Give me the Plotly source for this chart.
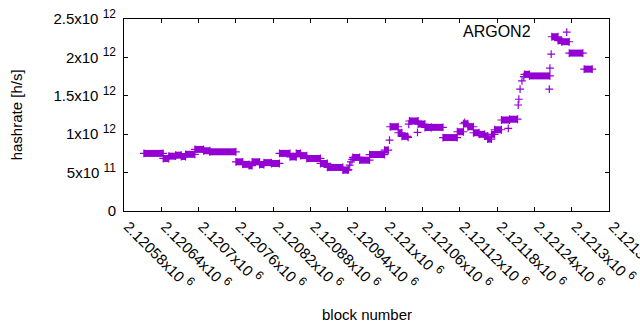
import plotly.graph_objects as go

# Runs of (nearly) constant hashrate: start block, end block, hashrate (x1e12 h/s)
run_start = [2120612, 2120643, 2120652, 2120663, 2120672, 2120679, 2120694, 2120708, 2120718,
             2120760, 2120771, 2120781, 2120786, 2120798, 2120805, 2120817, 2120830, 2120847,
             2120857, 2120864, 2120874, 2120896, 2120907, 2120932, 2120948, 2120959, 2120975,
             2120999, 2121008, 2121021, 2121027, 2121039, 2121053, 2121064, 2121074, 2121093,
             2121116, 2121126, 2121133, 2121142, 2121151, 2121160, 2121165, 2121171, 2121176,
             2121187, 2121200, 2121224, 2121232, 2121268, 2121278, 2121284, 2121296, 2121320]
run_end = [2120643, 2120652, 2120663, 2120672, 2120679, 2120694, 2120708, 2120718, 2120760,
           2120771, 2120781, 2120786, 2120798, 2120805, 2120817, 2120830, 2120847, 2120857,
           2120864, 2120874, 2120896, 2120907, 2120932, 2120940, 2120959, 2120975, 2120999,
           2121005, 2121021, 2121027, 2121036, 2121053, 2121064, 2121074, 2121093, 2121116,
           2121126, 2121133, 2121142, 2121151, 2121160, 2121165, 2121171, 2121176, 2121187,
           2121200, 2121213, 2121232, 2121265, 2121278, 2121284, 2121296, 2121318, 2121333]
run_hashrate = [0.750, 0.684, 0.714, 0.727, 0.710, 0.738, 0.802, 0.784, 0.771,
                0.640, 0.607, 0.590, 0.640, 0.606, 0.630, 0.619, 0.750, 0.705,
                0.750, 0.721, 0.684, 0.619, 0.567, 0.532, 0.697, 0.662, 0.735,
                0.793, 1.097, 1.019, 0.972, 1.172, 1.132, 1.087, 1.089, 0.956,
                1.032, 1.136, 1.097, 1.019, 0.998, 0.976, 0.937, 0.998, 1.058,
                1.185, 1.195, 1.779, 1.759, 2.269, 2.219, 2.204, 2.056, 1.847]

# Isolated samples (transitions)
pt_block = [2120941, 2120943, 2120945, 2120947, 2121007, 2121037, 2121038, 2121052,
            2121128, 2121198, 2121214, 2121215, 2121217, 2121220, 2121223, 2121264,
            2121265, 2121267, 2121292]
pt_hashrate = [0.54, 0.597, 0.64, 0.671, 0.923, 0.959, 1.13, 1.024,
               1.155, 1.076, 1.38, 1.455, 1.586, 1.694, 1.75, 1.586,
               1.86, 2.043, 2.33]

x_tick_vals = [2120580 + 60 * i for i in range(14)]
x_tick_text = ["2.12058", "2.12064", "2.1207", "2.12076", "2.12082", "2.12088", "2.12094",
               "2.121", "2.12106", "2.12112", "2.12118", "2.12124", "2.1213", "2.12136"]
y_tick_vals = [0, 0.5e12, 1.0e12, 1.5e12, 2.0e12, 2.5e12]
y_tick_mant = ["0", "5", "1", "1.5", "2", "2.5"]
y_tick_exp = ["", "11", "12", "12", "12", "12"]

C = "#9400D3"
FONT = "Liberation Sans, Arial, sans-serif"
SCALE = 1e12


def sci(m, e):
    if not e:
        return m
    return m + "x10\u00a0<sup><span style='font-size:12px'>" + e + "</span></sup>"


lx, ly, mx, my = [], [], [], []
for s, e, v in zip(run_start, run_end, run_hashrate):
    lx += [s, e, None]
    ly += [v * SCALE, v * SCALE, None]
    mx += [s, e]
    my += [v * SCALE, v * SCALE]
mx += pt_block
my += [v * SCALE for v in pt_hashrate]

fig = go.Figure()
fig.add_trace(go.Scatter(x=lx, y=ly, mode="lines", line=dict(color=C, width=7),
                         connectgaps=False, hoverinfo="skip", showlegend=False))
fig.add_trace(go.Scatter(x=mx, y=my, mode="markers", showlegend=False,
                         marker=dict(symbol="cross-thin", size=5.6, color=C,
                                     line=dict(width=1.2, color=C))))

axis_common = dict(showline=True, linecolor="black", linewidth=1, mirror="ticks",
                   ticks="inside", ticklen=4, tickcolor="black", showgrid=False,
                   zeroline=False, tickfont=dict(family=FONT, size=15, color="black"))

fig.update_layout(
    width=640, height=330,
    margin=dict(l=124, r=31, t=19, b=119, autoexpand=False),
    paper_bgcolor="white", plot_bgcolor="white",
    font=dict(family=FONT, size=15, color="black"),
    xaxis=dict(range=[2120580, 2121360], tickvals=x_tick_vals,
               ticktext=[sci(t, "6") for t in x_tick_text],
               tickangle=45, ticklabeloverflow="allow", ticklabelshift=4,
               **axis_common),
    yaxis=dict(range=[0, 2.5e12], tickvals=y_tick_vals,
               ticktext=[sci(m, e) for m, e in zip(y_tick_mant, y_tick_exp)],
               ticklabelstandoff=4, **axis_common),
    annotations=[
        dict(text="ARGON2", x=0.769, y=0.937, xref="paper", yref="paper",
             showarrow=False, xanchor="center", yanchor="middle",
             font=dict(family=FONT, size=16, color="black")),
        dict(text="hashrate [h/s]", x=-0.222, y=0.5, xref="paper", yref="paper",
             showarrow=False, textangle=-90, xanchor="center", yanchor="middle",
             font=dict(family=FONT, size=15, color="black")),
        dict(text="block number", x=0.5, y=-0.54, xref="paper", yref="paper",
             showarrow=False, xanchor="center", yanchor="middle",
             font=dict(family=FONT, size=15, color="black")),
    ],
)

fig.write_html("out.html", config={"staticPlot": True, "displayModeBar": False},
               post_script="document.body.style.margin='0';")
